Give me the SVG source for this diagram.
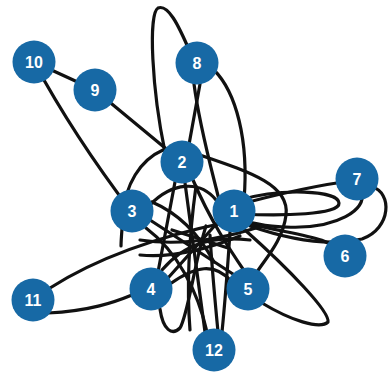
<svg xmlns="http://www.w3.org/2000/svg" width="392" height="372" viewBox="0 0 392 372">
<style>
.e{fill:none;stroke:#111;stroke-width:3.2;stroke-linecap:round;stroke-linejoin:round}
.n circle{fill:#1769a5}
.n text{fill:#fff;font-family:"Liberation Sans",Arial,sans-serif;font-weight:bold;font-size:16px;text-anchor:middle;dominant-baseline:central}
</style>
<rect width="392" height="372" fill="#fff"/>
<g id="connectors">
<path class="e" d="M34,62 L95,90"/>
<path class="e" d="M34,62 Q74,136 131,211"/>
<path class="e" d="M95,90 L182,162"/>
<path class="e" d="M190,52 C178,24 168,4 158,8 C148,14 152,90 165,152"/>
<path class="e" d="M214,70 C236,92 249,140 244,200"/>
<path class="e" d="M200,84 L188,150"/>
<path class="e" d="M194,84 C200,130 212,170 222,212"/>
<path class="e" d="M163,150 C140,160 125,185 123,215 C122,230 121,240 121,246"/>
<path class="e" d="M150,205 C172,182 200,180 216,200"/>
<path class="e" d="M200,155 C250,172 290,185 286,215 C283,240 266,258 257,272"/>
<path class="e" d="M234,206 C270,196 310,186 357,180"/>
<path class="e" d="M240,200 C280,188 338,190 339,203 C340,215 282,216 240,214"/>
<path class="e" d="M362,192 C366,212 335,226 300,227 C280,228 265,226 240,220"/>
<path class="e" d="M372,187 C392,192 392,228 362,239 C330,246 290,240 250,226"/>
<path class="e" d="M345,256 C330,236 300,236 250,224"/>
<path class="e" d="M50,288 C100,256 160,236 228,222"/>
<path class="e" d="M48,313 C90,311 115,302 132,295"/>
<path class="e" d="M160,309 C163,330 172,336 180,328 C188,315 195,260 206,226"/>
<path class="e" d="M175,182 L158,272"/>
<path class="e" d="M185,183 L205,332"/>
<path class="e" d="M193,180 C210,220 230,250 245,272"/>
<path class="e" d="M150,220 L236,276"/>
<path class="e" d="M146,228 C178,252 198,292 207,332"/>
<path class="e" d="M218,222 L168,278"/>
<path class="e" d="M222,332 C226,292 228,262 230,232"/>
<path class="e" d="M262,303 C290,320 320,330 328,322 C330,312 290,270 245,230"/>
<path class="e" d="M140,240 C180,246 220,240 262,226"/>
<path class="e" d="M170,284 C195,266 215,262 232,282"/>
<path class="e" d="M140,255 C170,258 205,250 240,236"/>
<path class="e" d="M210,235 C212,270 215,300 218,332"/>
<path class="e" d="M196,186 C190,230 186,280 190,330"/>
<path class="e" d="M152,202 C180,214 200,236 214,262"/>
<path class="e" d="M162,270 C186,242 214,236 250,240"/>
<path class="e" d="M172,230 L228,248"/>
</g>
<g id="n10" class="n"><circle cx="34" cy="62" r="21.5"/><text x="34" y="62">10</text></g>
<g id="n9" class="n"><circle cx="95" cy="90" r="21.5"/><text x="95" y="90">9</text></g>
<g id="n8" class="n"><circle cx="197" cy="63" r="21.5"/><text x="197" y="63">8</text></g>
<g id="n2" class="n"><circle cx="182" cy="162" r="21.5"/><text x="182" y="162">2</text></g>
<g id="n3" class="n"><circle cx="132" cy="211" r="21.5"/><text x="132" y="211">3</text></g>
<g id="n1" class="n"><circle cx="234" cy="211" r="21.5"/><text x="234" y="211">1</text></g>
<g id="n7" class="n"><circle cx="357" cy="179" r="21.5"/><text x="357" y="179">7</text></g>
<g id="n6" class="n"><circle cx="345" cy="256" r="21.5"/><text x="345" y="256">6</text></g>
<g id="n11" class="n"><circle cx="33" cy="300" r="21.5"/><text x="33" y="300">11</text></g>
<g id="n4" class="n"><circle cx="151" cy="289" r="21.5"/><text x="151" y="289">4</text></g>
<g id="n5" class="n"><circle cx="248" cy="289" r="21.5"/><text x="248" y="289">5</text></g>
<g id="n12" class="n"><circle cx="214" cy="350" r="21.5"/><text x="214" y="350">12</text></g>
</svg>
